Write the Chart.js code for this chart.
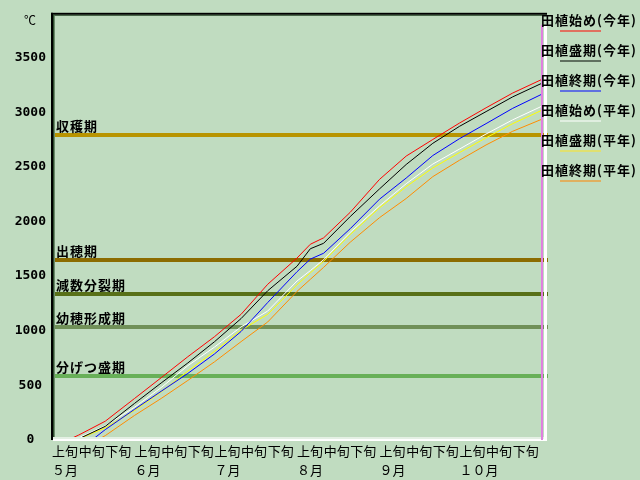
<!DOCTYPE html>
<html><head><meta charset="utf-8">
<script src="https://cdn.jsdelivr.net/npm/chart.js@4.4.0/dist/chart.umd.min.js"></script>
<style>html,body{margin:0;padding:0;background:#c0dcc0;}#wrap{width:640px;height:480px;}canvas{display:block;}</style>
</head><body><div id="wrap"><canvas id="c" width="640" height="480"></canvas></div>
<script>
// ---- data ----
const dekadDays = [0,10,20,31,41,51,61,71,81,92,102,112,123,133,143,153,163,173];
const dekadLabels = ['上旬','中旬','下旬'];
const monthLabels = ['５月','６月','７月','８月','９月','１０月'];
const yTicks = [0,500,1000,1500,2000,2500,3000,3500];
const days = [10,20,31,41,51,61,71,81,92,97,102,112,123,133,143,153,163,173,184];
const seriesNames = ['田植始め(今年)','田植盛期(今年)','田植終期(今年)','田植始め(平年)','田植盛期(平年)','田植終期(平年)'];
const startDays = [6,9,15,8,9,17];
const startRed    = [45,172,380,570,762,945,1150,1425,1665,1791,1850,2084,2385,2598,2750,2900,3040,3175,3300];
const prodBlack   = [10,125,335,522,705,899,1111,1366,1590,1750,1800,2045,2298,2521,2715,2870,3005,3140,3265];
const endBlue     = [null,95,281,446,609,787,993,1258,1540,1655,1709,1934,2204,2397,2603,2757,2895,3035,3165];
const normStart   = [20,130,300,480,680,850,1035,1180,1455,1550,1650,1900,2142,2345,2525,2662,2800,2930,3055];
const normPeak    = [10,110,270,440,630,810,1005,1150,1420,1530,1635,1880,2125,2318,2490,2630,2765,2895,3018];
const normEnd     = [null,40,225,380,545,715,900,1080,1360,1470,1580,1810,2035,2210,2410,2560,2700,2825,2936];
const stageNames  = ['収穫期','出穂期','減数分裂期','幼穂形成期','分げつ盛期'];
const stageValues = [2790,1645,1335,1035,585];

// ---- styles ----
const seriesColors = ['#ff0000','#000000','#0000ff','#ffffff','#ffff00','#ff8c00'];
const legendColors = ['#e07060','#607060','#6070e0','#e0eee0','#e0e070','#e0b060'];
const stageColors  = ['#b89400','#8c6c00','#587018','#709058','#68b058'];
const BG = '#c0dcc0';
const CJK = '"Noto Sans CJK JP"';

const allSeries = [startRed,prodBlack,endBlue,normStart,normPeak,normEnd];
function buildPoints(start, vals){
  const pts=[{x:start,y:0}];
  days.forEach((d,j)=>{ if(vals[j]!==null && d>start) pts.push({x:d,y:vals[j]}); });
  return pts;
}

const deco = {
  id:'deco',
  beforeDraw(chart){
    const c=chart.ctx; c.save(); c.fillStyle=BG; c.fillRect(0,0,chart.width,chart.height); c.restore();
  },
  beforeDatasetsDraw(chart){
    const c=chart.ctx, a=chart.chartArea, ys=chart.scales.y;
    c.save();
    stageValues.forEach((v,i)=>{
      const y=Math.round(ys.getPixelForValue(v));
      c.fillStyle=stageColors[i];
      c.fillRect(a.left+1,y-2,a.right-a.left+5,4);
      c.fillStyle='#000';
      c.font='bold 13px '+CJK;
      c.textAlign='left'; c.textBaseline='middle';
      try{c.letterSpacing='1px';}catch(e){}
      c.fillText(stageNames[i],a.left+4,y-9);
    });
    c.restore();
  },
  afterDatasetsDraw(chart){
    const c=chart.ctx, a=chart.chartArea;
    c.save();
    const L=a.left, T=a.top, R=a.right, B=a.bottom;
    // top border
    c.fillStyle='#000'; c.fillRect(L-1,T-1,R-L+6,2);
    c.fillStyle='#2c4a2c'; c.fillRect(L-1,T+1,R-L+6,1);
    // left border
    c.fillStyle='#000'; c.fillRect(L-1,T-1,2,B-T+1);
    c.fillStyle='#2c4a2c'; c.fillRect(L+1,T+1,1,B-T-1);
    c.fillStyle='#6c8c6c'; c.fillRect(L+2,T+2,1,B-T-2);
    // bottom border
    c.fillStyle='#e4f0e4'; c.fillRect(L+1,B-3,R-L+4,2);
    c.fillStyle='#ffffff'; c.fillRect(L+1,B-1,R-L+4,2);
    // right border
    c.fillStyle='#e080e0'; c.fillRect(R-1,T+11,2,B-T-11);
    c.fillStyle='#ffffff'; c.fillRect(R+2,T+11,3,B-T-10);
    // unit
    c.fillStyle='#000'; c.font='12px '+CJK; c.textAlign='center'; c.textBaseline='middle';
    c.fillText('℃',30,20);
    // legend
    c.font='bold 13px '+CJK; c.textAlign='left';
    try{c.letterSpacing='1px';}catch(e){}
    seriesNames.forEach((n,i)=>{
      c.fillStyle='#000';
      c.fillText(n,R-1,20+30*i);
      c.fillStyle=legendColors[i];
      c.fillRect(R+18,30+30*i,41,2);
    });
    c.restore();
  }
};

new Chart(document.getElementById('c'),{
  type:'line',
  data:{datasets: allSeries.map((s,i)=>({
    label:seriesNames[i], data:buildPoints(startDays[i],s),
    borderColor:seriesColors[i], borderWidth:1, pointRadius:0, fill:false, tension:0
  }))},
  options:{
    responsive:false, animation:false, devicePixelRatio:1,
    layout:{padding:{top:11,right:98,left:0,bottom:0}},
    plugins:{legend:{display:false},tooltip:{enabled:false}},
    scales:{
      x:{type:'linear',min:0,max:184,
        grid:{display:false,drawTicks:false},border:{display:false},
        afterBuildTicks(s){ s.ticks=dekadDays.map(v=>({value:v})); },
        afterFit(s){ s.height=40; },
        ticks:{autoSkip:false,maxRotation:0,minRotation:0,align:'start',padding:2,color:'#000',
          font:{family:CJK,size:13,lineHeight:1.46},
          callback:(v,i)=> i%3===0 ? [dekadLabels[0],monthLabels[i/3]] : [dekadLabels[i%3],'']}
      },
      y:{min:0,max:3900,
        grid:{display:false,drawTicks:false},border:{display:false},
        afterBuildTicks(s){ s.ticks=yTicks.map(v=>({value:v})); },
        afterFit(s){ s.width=52; },
        ticks:{crossAlign:'center',padding:6,color:'#000',
          font:{family:'"DejaVu Sans Mono"',size:13,weight:'bold'},
          callback:(v)=>String(v)}
      }
    }
  },
  plugins:[deco]
});
</script></body></html>
